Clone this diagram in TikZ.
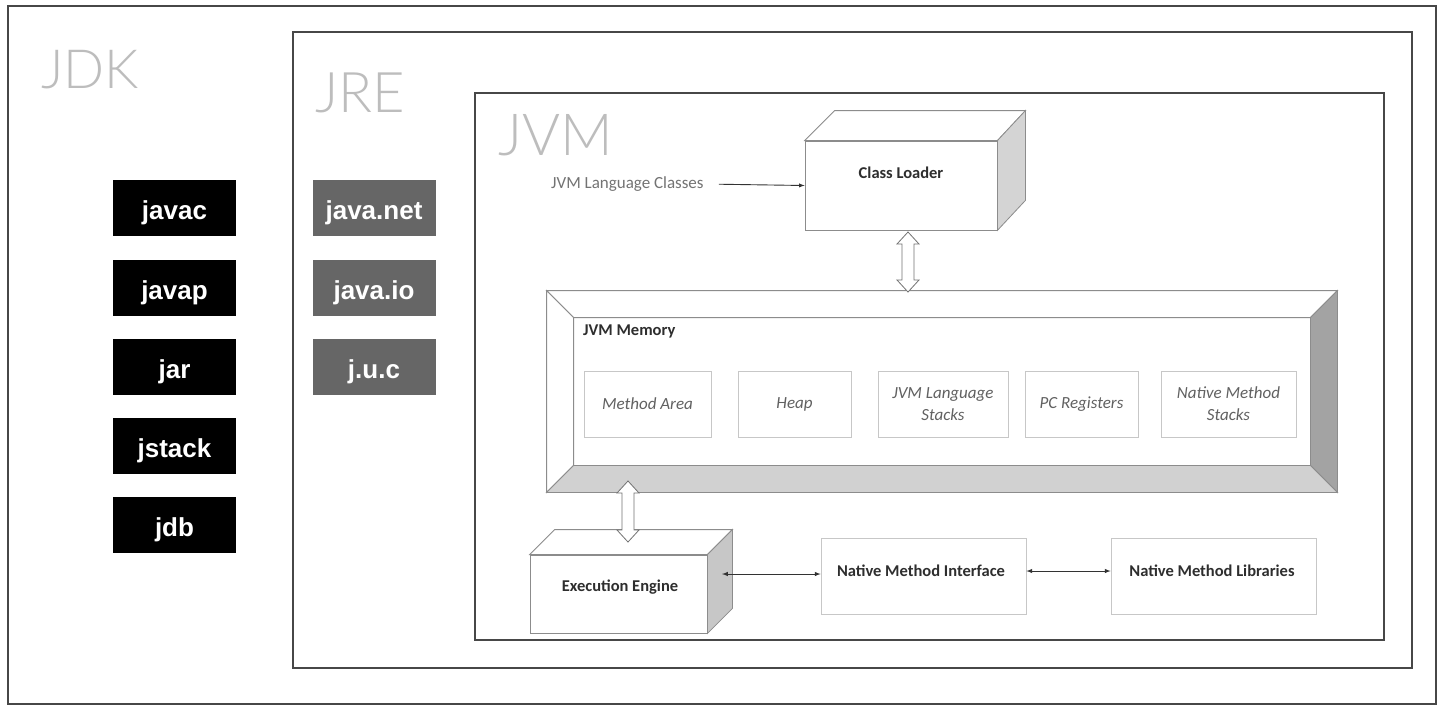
\documentclass[tikz,border=0pt]{standalone}
\usepackage{fontspec}
\setmainfont{Carlito}
\newfontfamily\thinfont{Lato Light}
\newfontfamily\boxfont{Liberation Sans}
\usetikzlibrary{calc}
\newcommand{\hollowarrow}[3]{%
  \draw[hollow] (#1,#2) -- (#1+11,#2+12) -- (#1+6,#2+12) -- (#1+6,#3-12) -- (#1+11,#3-12)
    -- (#1,#3) -- (#1-11,#3-12) -- (#1-6,#3-12) -- (#1-6,#2+12) -- (#1-11,#2+12) -- cycle;}
\begin{document}
\begin{tikzpicture}[x=1pt,y=-1pt,
  frame/.style={draw=black!72, line width=1.7pt, inner sep=0},
  title/.style={font=\thinfont\fontsize{#1}{#1}\selectfont, text=black!26, anchor=base west, inner sep=0},
  tool/.style={fill=black, text=white, font=\boxfont\bfseries\fontsize{26}{26}\selectfont, minimum width=123pt, minimum height=56pt, inner sep=0, text depth=0pt, text height=22pt},
  lib/.style={tool, fill=black!60},
  face/.style={draw=black!45, line width=0.8pt, fill=white, inner sep=0},
  cell/.style={draw=black!22, line width=0.8pt, minimum height=66pt, inner sep=2pt, font=\itshape\fontsize{17}{22}\selectfont, text=black!62, align=center},
  lbl/.style={font=\bfseries\fontsize{16.5}{18}\selectfont, text=black!82, inner sep=0},
  con/.style={<->, >=latex, line width=1pt, draw=black!80},
  hollow/.style={draw=black!55, line width=0.8pt, fill=white}
]
\useasboundingbox[fill=white] (0,0) rectangle (1446,710);

% frames
\node[frame, minimum width=1428pt, minimum height=698pt] (jdk) at (722,355) {};
\node[frame, minimum width=1119pt, minimum height=636pt] (jre) at (852.5,350) {};
\node[frame, minimum width=909pt, minimum height=547pt] (jvm) at (929.5,366.5) {};

\node[title=54] (jdkt) at (41,88) {JDK};
\node[title=56] (jret) at (315,112) {JRE};
\node[title=58] (jvmt) at (498,155) {JVM};

% tools
\node[tool] (javac) at (174.5,208) {javac};
\node[tool] (javap) at (174.5,288) {javap};
\node[tool] (jar) at (174.5,367) {jar};
\node[tool] (jstack) at (174.5,446) {jstack};
\node[tool] (jdb) at (174.5,525) {jdb};

\node[lib] (jnet) at (374,208) {java.net};
\node[lib] (jio) at (374,288) {java.io};
\node[lib] (juc) at (374,367) {j.u.c};

% class loader
\node[face, minimum width=192pt, minimum height=89pt] (cl) at (901,185.5) {};
\draw[face] (cl.north west) -- ++(30,-30) -- ($(cl.north east)+(28,-30)$) -- (cl.north east) -- cycle;
\draw[face, fill=black!17] (cl.north east) -- ++(28,-30) -- ($(cl.south east)+(28,-30)$) -- (cl.south east) -- cycle;
\node[lbl] (clt) at (901,173) {Class Loader};

\node[font=\fontsize{17}{20}\selectfont, text=black!55, anchor=west, inner sep=0] (jlc) at (551,184) {JVM Language Classes};
\draw[->, >=latex, line width=0.9pt, draw=black!80, shorten <=15pt] (jlc.east) -- (cl.west);

% memory
\node[face, minimum width=790pt, minimum height=201pt] (mem) at (942,391.5) {};
\coordinate (miNW) at ($(mem.north west)+(27,27)$);
\coordinate (miNE) at ($(mem.north east)+(-27,27)$);
\coordinate (miSE) at ($(mem.south east)+(-27,-27)$);
\coordinate (miSW) at ($(mem.south west)+(27,-27)$);
\draw[face] (mem.north west) -- (mem.north east) -- (miNE) -- (miNW) -- cycle;
\draw[face] (mem.north west) -- (miNW) -- (miSW) -- (mem.south west) -- cycle;
\draw[face, fill=black!36] (mem.north east) -- (mem.south east) -- (miSE) -- (miNE) -- cycle;
\draw[face, fill=black!18] (mem.south west) -- (miSW) -- (miSE) -- (mem.south east) -- cycle;
\node[lbl, anchor=west] (memt) at (583,331) {JVM Memory};

\node[cell, minimum width=127pt] (ma) at (647.5,404) {Method Area};
\node[cell, minimum width=113pt] (heap) at (794.5,404) {Heap};
\node[cell, minimum width=130pt] (jls) at (943,404) {JVM Language\\Stacks};
\node[cell, minimum width=113pt] (pcr) at (1081.5,404) {PC Registers};
\node[cell, minimum width=135pt] (nms) at (1228.5,404) {Native Method\\Stacks};

% execution engine
\node[face, minimum width=177pt, minimum height=78pt] (ee) at (618.5,594) {};
\draw[face] (ee.north west) -- ++(25,-25) -- ($(ee.north east)+(25,-25)$) -- (ee.north east) -- cycle;
\draw[face, fill=black!22] (ee.north east) -- ++(25,-25) -- ($(ee.south east)+(25,-25)$) -- (ee.south east) -- cycle;
\node[lbl] (eet) at (620,587) {Execution Engine};

% native
\node[face, draw=black!22, minimum width=205pt, minimum height=76pt] (nmi) at (923.5,576) {};
\node[lbl] (nmit) at (921,571) {Native Method Interface};
\node[face, draw=black!22, minimum width=205pt, minimum height=76pt] (nml) at (1213.5,576) {};
\node[lbl] (nmlt) at (1212,571) {Native Method Libraries};

\coordinate (eeR) at (722,574);
\draw[con] (eeR) -- (eeR -| nmi.west);
\draw[con] (nmi.east |- nmit) -- (nml.west |- nmit);

% hollow arrows
\hollowarrow{908}{232}{292}
\hollowarrow{628}{481}{542}
\end{tikzpicture}
\end{document}
